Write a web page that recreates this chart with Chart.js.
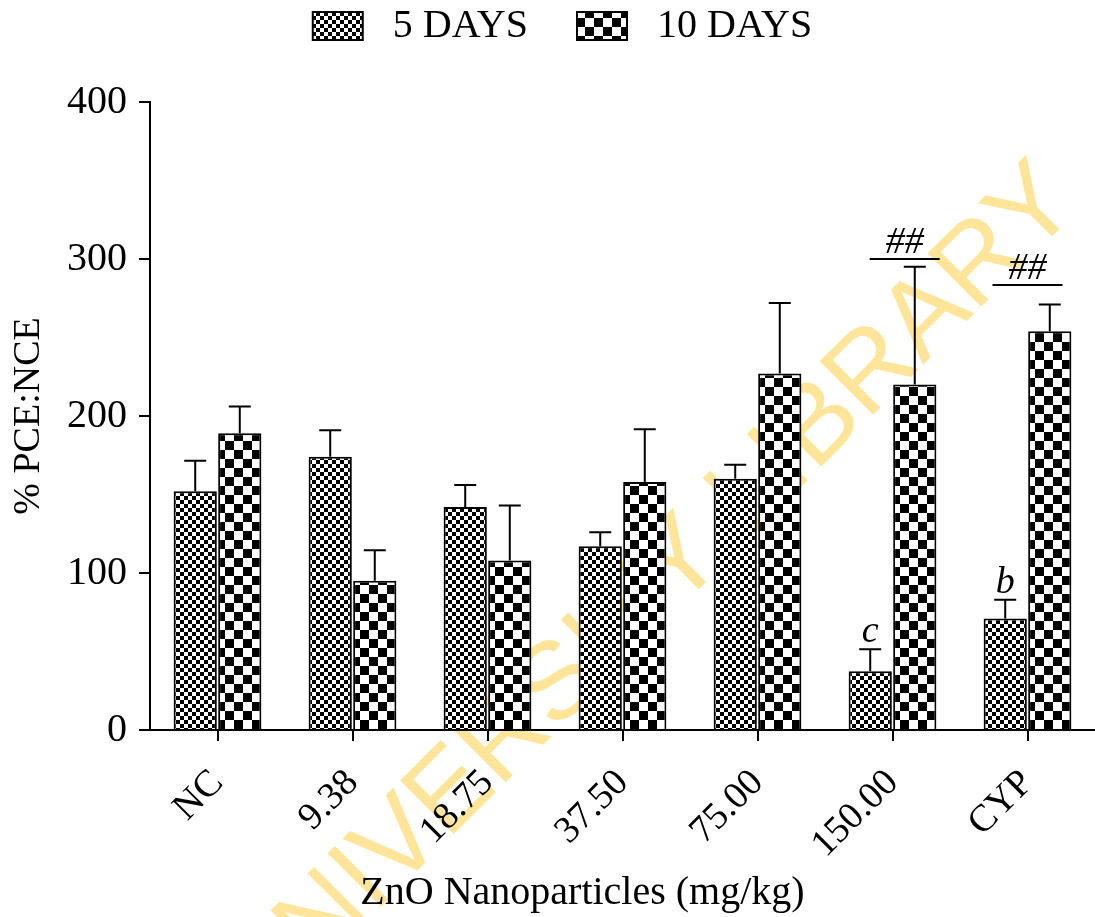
<!DOCTYPE html>
<html>
<head>
<meta charset="utf-8">
<script src="https://cdn.jsdelivr.net/npm/chart.js@4.4.1/dist/chart.umd.min.js"></script>
<style>
  html, body { margin: 0; padding: 0; background: #fff; }
  #wrap { width: 1095px; height: 917px; }
</style>
</head>
<body>
<div id="wrap"><canvas id="pceChart"></canvas></div>
<script>
const doses = ["NC", "9.38", "18.75", "37.50", "75.00", "150.00", "CYP"];
const fiveDays = [152, 174, 142, 117, 160, 37.5, 71];
const fiveDaysSem = [19.5, 17, 14, 9, 9, 14, 12];
const tenDays = [189, 95, 108, 158, 227, 220, 254];
const tenDaysSem = [17, 19.5, 35, 33.5, 45, 75, 17];
const yTicks = [0, 100, 200, 300, 400];

// letters above the 5 DAYS error bars
const fiveDayMarks = ["", "", "", "", "", "c", "b"];
// "##" over a line, line height in data units, line center in category units
const hashMarks = ["", "", "", "", "", "##", "##"];
const hashLineValue = [null, null, null, null, null, 300, 283.5];
const hashLineCenter = [null, null, null, null, null, 5.09, 6.0];

const SERIF = "'Liberation Serif', 'Times New Roman', serif";
const canvas = document.getElementById("pceChart");
const ctx = canvas.getContext("2d");

const makeChecker = (cell) => {
  const c = document.createElement("canvas");
  c.width = c.height = cell * 2;
  const g = c.getContext("2d");
  g.fillStyle = "#fff";
  g.fillRect(0, 0, cell * 2, cell * 2);
  g.fillStyle = "#000";
  g.fillRect(0, 0, cell, cell);
  g.fillRect(cell, cell, cell, cell);
  return ctx.createPattern(c, "repeat");
};

const watermark = {
  id: "watermark",
  beforeDraw(chart) {
    const c = chart.ctx;
    c.save();
    c.fillStyle = "#fff";
    c.fillRect(0, 0, chart.width, chart.height);
    c.translate(650, 595);
    c.rotate(-Math.PI / 4);
    c.fillStyle = "#ffe599";
    c.font = "110px 'Liberation Sans', Arial, sans-serif";
    c.textAlign = "center";
    c.textBaseline = "middle";
    c.fillText("UNIVERSITY LIBRARY", 0, 0);
    c.restore();
  }
};

// extra room under the legend, legend nudged right
const legendSpacing = {
  id: "legendSpacing",
  afterInit(chart) {
    const fit = chart.legend.fit;
    chart.legend.fit = function () {
      fit.call(this);
      this.height += 46;
    };
  },
  afterLayout(chart) {
    chart.legend.left += 15;
    chart.legend.right += 15;
  }
};

const errorBars = {
  id: "errorBars",
  afterDatasetsDraw(chart) {
    const c = chart.ctx;
    const y = chart.scales.y;
    c.save();
    c.strokeStyle = "#000";
    c.lineWidth = 2;
    chart.data.datasets.forEach((ds, di) => {
      chart.getDatasetMeta(di).data.forEach((bar, i) => {
        const top = y.getPixelForValue(ds.data[i] + ds.sem[i]);
        c.beginPath();
        c.moveTo(bar.x, bar.y);
        c.lineTo(bar.x, top);
        c.moveTo(bar.x - 11, top);
        c.lineTo(bar.x + 11, top);
        c.stroke();
      });
    });
    c.restore();
  }
};

const marks = {
  id: "marks",
  afterDraw(chart) {
    const c = chart.ctx;
    const { x, y } = chart.scales;
    const meta = chart.getDatasetMeta(0);
    c.save();
    c.fillStyle = "#000";
    c.strokeStyle = "#000";
    c.textAlign = "center";
    c.textBaseline = "alphabetic";
    c.font = "italic 38px " + SERIF;
    fiveDayMarks.forEach((m, i) => {
      if (!m) return;
      const top = y.getPixelForValue(fiveDays[i] + fiveDaysSem[i]);
      c.fillText(m, meta.data[i].x, top - 7);
    });
    hashMarks.forEach((m, i) => {
      if (!m) return;
      const cx = x.getPixelForValue(hashLineCenter[i]);
      const ly = y.getPixelForValue(hashLineValue[i]);
      c.lineWidth = 2;
      c.beginPath();
      c.moveTo(cx - 35, ly);
      c.lineTo(cx + 35, ly);
      c.stroke();
      c.fillText(m, cx, ly - 6);
    });
    // x axis title
    c.font = "40px " + SERIF;
    c.textBaseline = "middle";
    c.fillText("ZnO Nanoparticles (mg/kg)", (chart.chartArea.left + chart.chartArea.right) / 2 - 40, 893);
    c.restore();
  }
};

Chart.defaults.color = "#000";
Chart.defaults.font.family = SERIF;

new Chart(ctx, {
  type: "bar",
  data: {
    labels: doses,
    datasets: [
      {
        label: "5 DAYS",
        data: fiveDays,
        sem: fiveDaysSem,
        backgroundColor: makeChecker(4),
        borderColor: "#000",
        borderWidth: 2
      },
      {
        label: "10 DAYS",
        data: tenDays,
        sem: tenDaysSem,
        backgroundColor: makeChecker(9),
        borderColor: "#000",
        borderWidth: 2
      }
    ]
  },
  options: {
    responsive: true,
    maintainAspectRatio: false,
    animation: false,
    categoryPercentage: 0.66,
    barPercentage: 0.97,
    layout: { padding: { top: -43, left: 0, right: 0, bottom: 0 } },
    plugins: {
      legend: {
        position: "top",
        labels: {
          font: { size: 40, family: SERIF },
          boxWidth: 50,
          boxHeight: 28,
          padding: 49,
          generateLabels: (chart) =>
            Chart.defaults.plugins.legend.labels.generateLabels(chart)
              .map(item => ({ ...item, text: " " + item.text }))
        }
      },
      tooltip: { enabled: false }
    },
    scales: {
      x: {
        grid: {
          drawOnChartArea: false,
          drawTicks: true,
          tickLength: 11,
          color: "#000",
          lineWidth: 2,
          offset: false
        },
        border: { color: "#000", width: 2 },
        ticks: {
          font: { size: 38, family: SERIF },
          maxRotation: 45,
          minRotation: 45,
          padding: 20
        },
        afterFit: (s) => { s.height = 187; }
      },
      y: {
        min: 0,
        max: 400,
        afterBuildTicks: (s) => { s.ticks = yTicks.map(v => ({ value: v })); },
        grid: {
          drawOnChartArea: false,
          drawTicks: true,
          tickLength: 11,
          color: "#000",
          lineWidth: 2
        },
        border: { color: "#000", width: 2 },
        ticks: {
          font: { size: 40, family: SERIF },
          padding: 12
        },
        title: {
          display: true,
          text: "% PCE:NCE",
          font: { size: 38, family: SERIF },
          padding: { top: 6, bottom: 0 }
        },
        afterFit: (s) => { s.width = 150; }
      }
    }
  },
  plugins: [watermark, legendSpacing, errorBars, marks]
});
</script>
</body>
</html>
